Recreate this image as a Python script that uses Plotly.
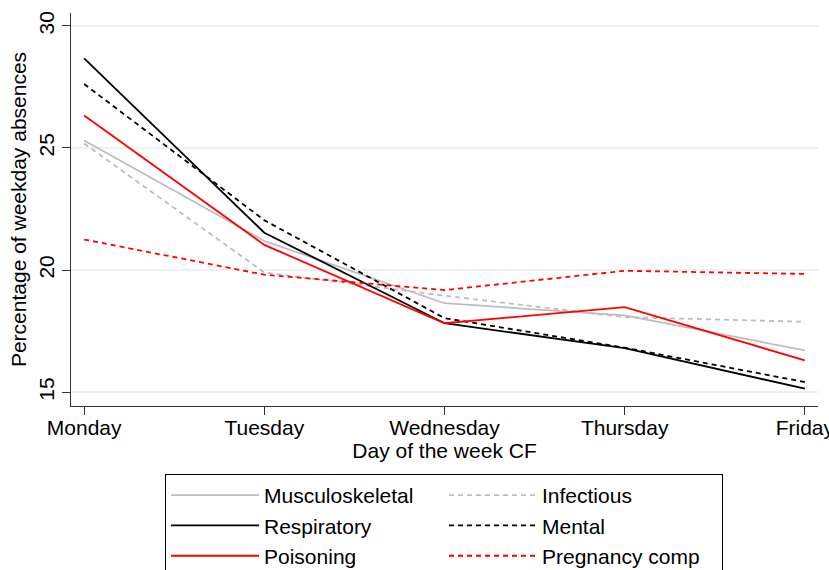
import plotly.graph_objects as go

days = ["Monday", "Tuesday", "Wednesday", "Thursday", "Friday"]
musculoskeletal = [25.31, 21.19, 18.64, 18.14, 16.71]
infectious = [25.18, 19.90, 18.95, 18.07, 17.88]
respiratory = [28.67, 21.53, 17.82, 16.80, 15.14]
mental = [27.62, 22.04, 18.03, 16.82, 15.41]
poisoning = [26.33, 21.03, 17.82, 18.48, 16.30]
pregnancy = [21.25, 19.81, 19.18, 19.97, 19.84]
y_ticks = [15, 20, 25, 30]

series = [
    ("Musculoskeletal", musculoskeletal, "#bdbdbd", "solid"),
    ("Infectious", infectious, "#bdbdbd", "5px,4px"),
    ("Respiratory", respiratory, "#000000", "solid"),
    ("Mental", mental, "#000000", "5px,4px"),
    ("Poisoning", poisoning, "#ff0000", "solid"),
    ("Pregnancy comp", pregnancy, "#ff0000", "5px,4px"),
]

x_idx = list(range(len(days)))
fig = go.Figure()
for name, vals, color, dash in series:
    fig.add_trace(go.Scatter(
        x=x_idx, y=vals, mode="lines", name=name,
        line=dict(color=color, width=1.8, dash=dash),
    ))

W, H = 829, 570
font_family = "Liberation Sans, Arial, sans-serif"
fs = 21
fig.update_layout(
    width=W, height=H, autosize=False,
    margin=dict(l=71, r=11, t=11, b=164),
    paper_bgcolor="white", plot_bgcolor="white",
    font=dict(family=font_family, size=fs, color="black"),
    showlegend=True,
    legend=dict(
        orientation="h",
        xref="container", yref="container",
        x=165 / W, xanchor="left",
        y=1 - 474 / H, yanchor="top",
        bordercolor="black", borderwidth=1,
        itemwidth=88,
        entrywidth=175,
        font=dict(size=fs),
        tracegroupgap=0,
        traceorder="normal",
    ),
    xaxis=dict(
        range=[-0.073, 4.073],
        tickmode="array", tickvals=x_idx, ticktext=days,
        showgrid=False, zeroline=False,
        showline=True, linecolor="#333333", linewidth=1.2,
        ticks="outside", ticklen=8, tickcolor="#333333",
        tickfont=dict(size=fs),
        ticklabelstandoff=-5,
        ticklabeloverflow="allow",
        automargin=False,
        title=dict(text="Day of the week CF", font=dict(size=fs), standoff=0),
    ),
    yaxis=dict(
        range=[14.43, 30.53],
        tickmode="array", tickvals=y_ticks,
        tickangle=-90,
        showgrid=True, gridcolor="#eaf2f3", gridwidth=1.5,
        zeroline=False,
        showline=True, linecolor="#333333", linewidth=1.2,
        ticks="outside", ticklen=8, tickcolor="#333333",
        tickfont=dict(size=fs),
        title=dict(text="Percentage of weekday absences", font=dict(size=fs), standoff=2),
    ),
)

post = (
    "document.body.style.margin='0';"
    "document.body.style.overflow='hidden';"
)
fig.write_html(
    "out.html",
    config={"responsive": False, "displayModeBar": False},
    post_script=post,
)
